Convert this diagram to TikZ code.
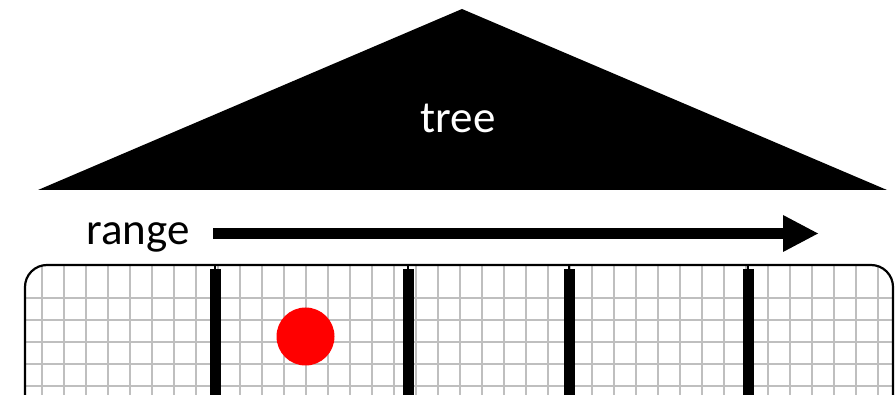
\documentclass[tikz,border=0pt]{standalone}
\usepackage{fontspec}
\setmainfont{Carlito}
\begin{document}
\begin{tikzpicture}[x=1pt,y=-1pt,
  lbl/.style={inner sep=0pt,font=\fontsize{45}{48}\selectfont},
  gridline/.style={draw={rgb,255:red,191;green,191;blue,191},line width=2pt},
  bar/.style={line width=11pt},
  frame/.style={draw=black,line width=2.2pt,rounded corners=22pt}]
\useasboundingbox (0,0) rectangle (895,395);
\clip (0,0) rectangle (895,395);
% tree
\fill[black] (462,9) -- (887,190) -- (38,190) -- cycle;
\node[lbl,text=white,anchor=base] (tree) at (458,133) {tree};
% range arrow
\node[lbl,anchor=base west] (range) at (86,245) {range};
\coordinate (arrS) at (213,233.5);
\coordinate (arrE) at (783,233.5);
\coordinate (tip) at (818,233.5);
\draw[line width=11pt] (arrS) -- (arrE);
\fill (783,215) -- (tip) -- (783,252) -- cycle;
% box with grid
\begin{scope}
\clip[rounded corners=22pt] (25,265) rectangle (893,430);
\foreach \x in {42,64,...,890} \draw[gridline] (\x,265) -- (\x,430);
\foreach \y in {298,320,...,400} \draw[gridline] (25,\y) -- (893,\y);
\end{scope}
\draw[frame] (25,265) rectangle (893,430);
\foreach \x in {215,408,569,748} {
  \draw[line width=1.2pt] (\x,265) -- (\x,269);
  \draw[bar] (\x,269) -- (\x,400);
}
\node[circle,fill=red,minimum size=58pt,inner sep=0pt] (dot) at (305.5,336.5) {};
\end{tikzpicture}
\end{document}
